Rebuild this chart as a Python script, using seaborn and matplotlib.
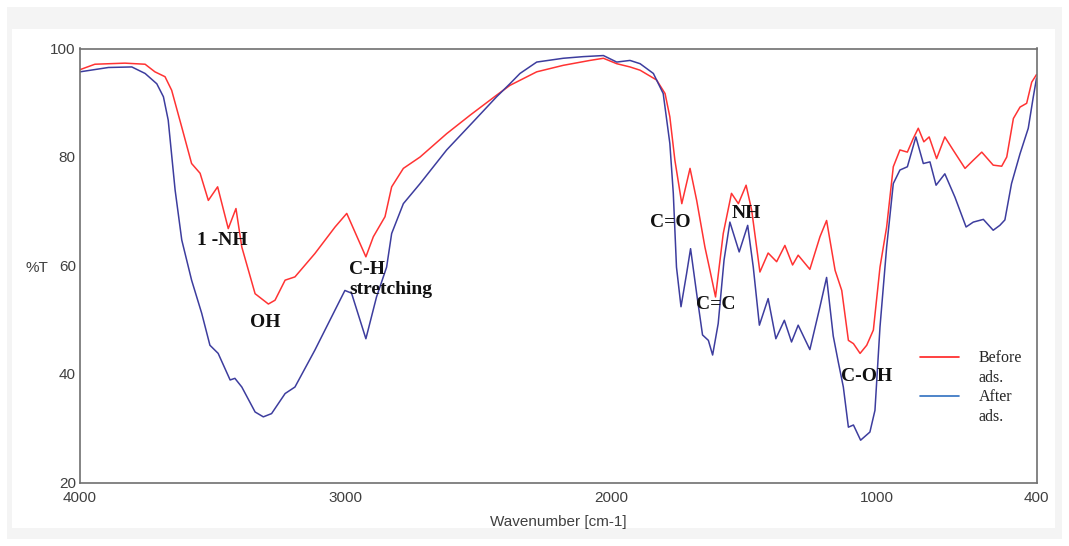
import numpy as np
import pandas as pd
import seaborn as sns
import matplotlib.pyplot as plt
from matplotlib.lines import Line2D
from matplotlib.patches import Rectangle

# FTIR spectra
before_wn = [4000, 3944, 3831, 3755, 3718, 3680, 3655, 3617, 3580, 3548, 3517, 3482, 3442, 3413, 3391,
             3341, 3291, 3266, 3228, 3191, 3116, 3040, 2996, 2924, 2896, 2852, 2827, 2783, 2720, 2620,
             2532, 2432, 2382, 2281, 2181, 2081, 2030, 1980, 1930, 1892, 1830, 1798, 1780, 1761, 1735,
             1704, 1679, 1648, 1629, 1608, 1579, 1548, 1522, 1493, 1472, 1441, 1410, 1378, 1347, 1318,
             1297, 1253, 1215, 1190, 1158, 1133, 1108, 1089, 1064, 1039, 1014, 989, 964, 939, 914,
             886, 864, 845, 824, 804, 776, 745, 714, 669, 638, 606, 563, 531, 512, 487, 462, 437, 418,
             405, 400]
before_T = [96.1, 97.1, 97.3, 97.1, 95.7, 94.8, 92.3, 85.5, 78.8, 77.0, 72.0, 74.5, 66.8, 70.5, 63.4,
            54.8, 52.9, 53.6, 57.3, 57.9, 62.2, 67.1, 69.6, 61.6, 65.3, 69.0, 74.5, 77.9, 80.0, 84.3,
            87.7, 91.4, 93.2, 95.7, 96.9, 97.8, 98.2, 97.2, 96.6, 96.0, 94.2, 91.7, 87.4, 79.4, 71.4,
            77.9, 72.0, 63.4, 59.1, 54.2, 65.9, 73.3, 71.4, 74.8, 70.2, 58.8, 62.3, 60.7, 63.7, 60.1,
            61.9, 59.3, 65.3, 68.3, 59.1, 55.4, 46.2, 45.6, 43.8, 45.3, 48.1, 59.7, 67.1, 78.2, 81.3,
            80.9, 83.4, 85.3, 82.8, 83.7, 79.7, 83.7, 81.3, 77.9, 79.4, 80.9, 78.5, 78.3, 80.0, 87.1,
            89.2, 89.9, 93.8, 94.8, 95.2]

after_wn = [4000, 3893, 3805, 3755, 3711, 3686, 3668, 3642, 3617, 3580, 3542, 3511, 3480, 3435, 3417,
            3391, 3341, 3310, 3279, 3228, 3191, 3116, 3040, 3003, 2978, 2924, 2884, 2846, 2827, 2783,
            2720, 2620, 2520, 2432, 2382, 2344, 2281, 2181, 2106, 2030, 1980, 1930, 1892, 1842, 1805,
            1780, 1767, 1755, 1738, 1717, 1702, 1679, 1657, 1635, 1619, 1598, 1576, 1554, 1519, 1487,
            1466, 1443, 1410, 1381, 1349, 1322, 1297, 1253, 1215, 1190, 1165, 1146, 1127, 1108, 1089,
            1062, 1027, 1008, 989, 964, 939, 914, 886, 854, 826, 801, 778, 745, 707, 665, 638, 600,
            563, 538, 519, 494, 462, 431, 412, 400]
after_T = [95.7, 96.5, 96.6, 95.4, 93.5, 91.1, 86.8, 73.9, 64.7, 57.3, 51.2, 45.3, 43.8, 38.9, 39.2,
           37.6, 33.0, 32.1, 32.7, 36.4, 37.6, 44.4, 51.8, 55.4, 54.9, 46.5, 54.2, 59.7, 65.9, 71.4,
           75.1, 81.3, 86.5, 91.1, 93.5, 95.4, 97.5, 98.2, 98.5, 98.7, 97.5, 97.8, 97.2, 95.4, 91.7,
           82.5, 73.3, 59.7, 52.4, 58.5, 63.1, 54.8, 47.2, 46.2, 43.5, 49.3, 61.0, 68.0, 62.5, 67.4,
           59.7, 49.0, 53.9, 46.5, 49.9, 45.9, 49.0, 44.5, 52.4, 57.8, 47.0, 42.2, 37.6, 30.2, 30.6,
           27.8, 29.3, 33.3, 48.7, 63.4, 75.1, 77.6, 78.2, 83.7, 78.8, 79.1, 74.8, 76.9, 72.6, 67.1,
           68.0, 68.5, 66.5, 67.4, 68.4, 75.1, 80.6, 85.3, 91.1, 94.5]

peak_labels = ["1 -NH", "OH", "C-H\nstretching", "C=O", "C=C", "NH", "C-OH"]
peak_wn = [3560, 3360, 2988, 1855, 1682, 1546, 1136]
peak_T = [64.7, 49.5, 57.4, 68.0, 52.9, 69.6, 39.6]

series_names = ["Before ads.", "After ads."]

df = pd.concat([
    pd.DataFrame({"wn": before_wn, "T": before_T, "sample": series_names[0]}),
    pd.DataFrame({"wn": after_wn, "T": after_T, "sample": series_names[1]}),
])

sns.set_style("white")
plt.rcParams["font.family"] = ["Liberation Sans", "DejaVu Sans"]

fig = plt.figure(figsize=(10.69, 5.46), dpi=100)
fig.patches.append(Rectangle((7 / 1069, 7 / 546), 1055 / 1069, 532 / 546, transform=fig.transFigure,
                             facecolor="#f4f4f4", edgecolor="none", zorder=-3))
fig.patches.append(Rectangle((12 / 1069, 18 / 546), 1043 / 1069, 499 / 546, transform=fig.transFigure,
                             facecolor="white", edgecolor="none", zorder=-2))
ax = fig.add_axes([80 / 1069, 1 - 482.5 / 546, 956.5 / 1069, 434 / 546])

sns.lineplot(data=df, x="wn", y="T", hue="sample", palette=["#ff3333", "#3d3d9e"],
             estimator=None, sort=False, linewidth=1.1, legend=False, ax=ax)

ax.set_xlim(4000, 400)
ax.set_ylim(20, 100)
ax.set_xticks([4000, 3000, 2000, 1000, 400])
ax.set_xticks([3500, 2500, 1500, 500], minor=True)
ax.set_yticks([20, 40, 60, 80, 100])
ax.set_yticks([30, 50, 70, 90], minor=True)
ax.tick_params(which="both", direction="in", colors="#707070", labelcolor="#404040", labelsize=11)
ax.tick_params(which="major", length=4, width=1)
ax.tick_params(which="minor", length=3, width=1)
ax.tick_params(axis="x", pad=6)
ax.tick_params(axis="y", pad=3)
for s in ax.spines.values():
    s.set_color("#707070")
    s.set_linewidth(1.2)

ax.set_xlabel("Wavenumber [cm-1]", fontsize=11, color="#404040", labelpad=7)
ax.set_ylabel("%T", fontsize=11, color="#404040", rotation=0, va="center")
ax.yaxis.set_label_coords(-0.045, 0.494)

for lab, x, y in zip(peak_labels, peak_wn, peak_T):
    ax.text(x, y, lab, family="Liberation Serif", fontweight="bold", fontsize=14,
            ha="left", va="center", color="#111111", linespacing=1.2)

# legend: line sits beside the first text row of each entry
blank = Line2D([], [], color="none")
handles = [Line2D([], [], color="#ff2020", lw=1.2), blank,
           Line2D([], [], color="#2f6fc0", lw=1.2), blank]
ax.legend(handles, ["Before", "ads.", "After", "ads."], loc="upper left", bbox_to_anchor=(0.8636, 0.338),
          frameon=False, prop={"family": "Liberation Serif", "size": 11.5},
          handlelength=2.4, handletextpad=1.25, labelspacing=0.22)

fig.savefig("out.png", dpi=100, facecolor="white")
